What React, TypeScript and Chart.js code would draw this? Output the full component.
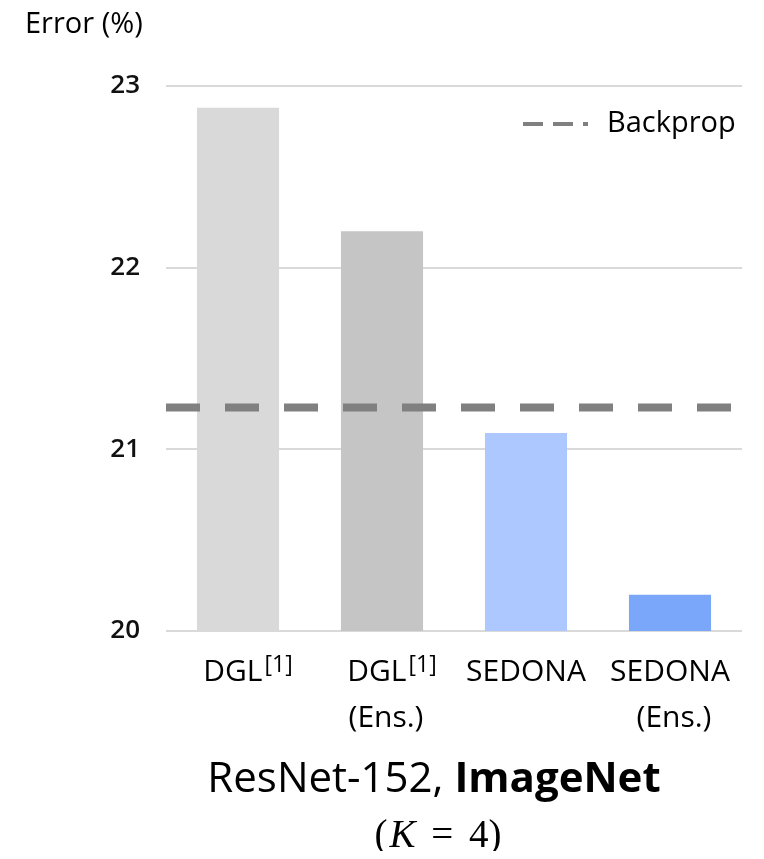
import React, { useEffect, useRef } from "react";
import { Chart, registerables } from "chart.js";

Chart.register(...registerables);

// ---- data ----
const categories = ["DGL", "DGL", "SEDONA", "SEDONA"];
const categorySup = ["[1]", "[1]", "", ""];
const categorySecondLine = ["", "(Ens.)", "", "(Ens.)"];
const errorValues = [22.88, 22.2, 21.09, 20.2];
const barColors = ["#d9d9d9", "#c5c5c5", "#adc8ff", "#7ba7fb"];
const backpropValue = [21.23];
const yTicks = [20, 21, 22, 23];
const yAxisTitle = "Error (%)";
const legendLabel = "Backprop";
const titleNormal = "ResNet-152, ";
const titleBold = "ImageNet";
const subtitleParts = ["(", "K", " = ", "4)"];

const FONT = '"Open Sans"';

const overlayPlugin = {
  id: "overlay",
  afterDatasetsDraw(chart: any) {
    const { ctx, chartArea, scales } = chart;
    const y = scales.y.getPixelForValue(backpropValue[0]);
    ctx.save();
    ctx.strokeStyle = "#808080";
    ctx.lineWidth = 8;
    ctx.setLineDash([34, 25]);
    ctx.beginPath();
    ctx.moveTo(chartArea.left, y);
    ctx.lineTo(chartArea.right - 11, y);
    ctx.stroke();
    ctx.restore();
  },
  afterDraw(chart: any) {
    const { ctx, scales } = chart;
    const xs = scales.x;
    ctx.save();
    ctx.fillStyle = "#000";
    ctx.textBaseline = "alphabetic";

    // y-axis title
    ctx.font = `400 29px ${FONT}`;
    ctx.textAlign = "left";
    ctx.fillText(yAxisTitle, 17, 25);

    // legend
    ctx.save();
    ctx.strokeStyle = "#808080";
    ctx.lineWidth = 4;
    ctx.setLineDash([20, 10]);
    ctx.beginPath();
    ctx.moveTo(515, 116);
    ctx.lineTo(580, 116);
    ctx.stroke();
    ctx.restore();
    ctx.textBaseline = "middle";
    ctx.fillText(legendLabel, 599, 116);
    ctx.textBaseline = "alphabetic";

    // category labels
    categories.forEach((cat: string, i: number) => {
      const cx = xs.getPixelForValue(i);
      ctx.font = `400 30px ${FONT}`;
      const wMain = ctx.measureText(cat).width;
      ctx.font = `400 23px ${FONT}`;
      const wSup = categorySup[i] ? ctx.measureText(categorySup[i]).width + 2 : 0;
      const offset = categorySup[i] ? 10 : 0;
      const start = cx - (wMain + wSup) / 2 + offset;
      ctx.textAlign = "left";
      ctx.font = `400 30px ${FONT}`;
      ctx.fillText(cat, start, 673);
      if (categorySup[i]) {
        ctx.font = `400 23px ${FONT}`;
        ctx.fillText(categorySup[i], start + wMain + 2, 664);
      }
      if (categorySecondLine[i]) {
        ctx.font = `400 30px ${FONT}`;
        ctx.textAlign = "center";
        ctx.fillText(categorySecondLine[i], cx + 4, 719);
      }
    });

    // title
    ctx.textAlign = "left";
    ctx.font = `400 42px ${FONT}`;
    const w1 = ctx.measureText(titleNormal).width;
    ctx.font = `700 42px ${FONT}`;
    const w2 = ctx.measureText(titleBold).width;
    const tStart = 426 - (w1 + w2) / 2;
    ctx.font = `400 42px ${FONT}`;
    ctx.fillText(titleNormal, tStart, 784);
    ctx.font = `700 42px ${FONT}`;
    ctx.fillText(titleBold, tStart + w1, 784);

    // subtitle (K = 4)
    const fonts = [
      `400 39px "Liberation Serif"`,
      `italic 400 39px "Liberation Serif"`,
      `400 39px "Liberation Serif"`,
      `400 39px "Liberation Serif"`,
    ];
    const gaps = [2, 6, 6, 0];
    const widths = subtitleParts.map((p, k) => {
      ctx.font = fonts[k];
      return ctx.measureText(p).width + gaps[k];
    });
    let sx = 430 - widths.reduce((a, b) => a + b, 0) / 2;
    subtitleParts.forEach((p, k) => {
      ctx.font = fonts[k];
      ctx.fillText(p, sx, 839);
      sx += widths[k];
    });
    ctx.restore();
  },
};

export default function App() {
  const canvasRef = useRef<HTMLCanvasElement | null>(null);

  useEffect(() => {
    if (!canvasRef.current) return;
    const chart = new Chart(canvasRef.current, {
      type: "bar",
      data: {
        labels: categories,
        datasets: [
          {
            label: "Error",
            data: errorValues,
            backgroundColor: barColors,
            borderWidth: 0,
            barPercentage: 0.57,
            categoryPercentage: 1,
          },
        ],
      },
      options: {
        animation: false,
        responsive: true,
        maintainAspectRatio: false,
        layout: { padding: { top: 78, right: 14, bottom: 220, left: 0 } },
        plugins: {
          legend: { display: false },
          tooltip: { enabled: false },
        },
        scales: {
          x: {
            display: false,
          },
          y: {
            min: yTicks[0],
            max: yTicks[yTicks.length - 1],
            afterBuildTicks: (scale: any) => {
              scale.ticks = yTicks.map((v) => ({ value: v }));
            },
            afterFit: (scale: any) => {
              scale.width = 158;
            },
            border: { display: false },
            grid: { color: "#d9d9d9", lineWidth: 2, drawTicks: false },
            ticks: {
              padding: 26,
              color: "#111",
              font: { family: "Open Sans", size: 26, weight: "600" },
            },
          },
        },
      },
      plugins: [overlayPlugin],
    });
    return () => chart.destroy();
  }, []);

  return (
    <div style={{ position: "relative", width: 748, height: 843 }}>
      <canvas ref={canvasRef} />
    </div>
  );
}
